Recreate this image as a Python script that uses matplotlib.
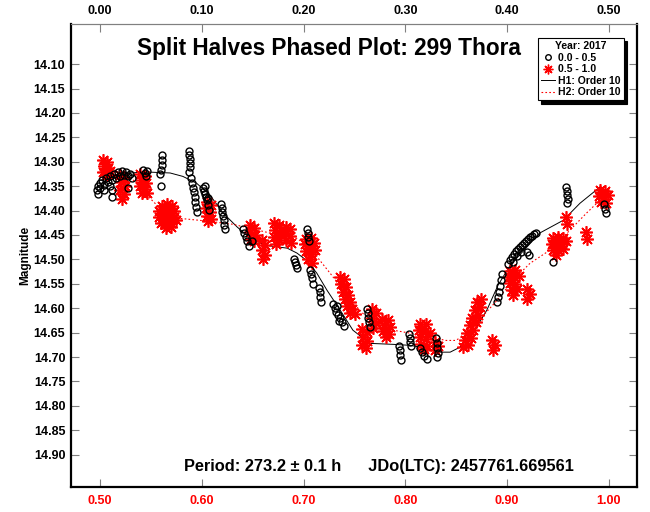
import matplotlib
matplotlib.use("Agg")
import matplotlib.pyplot as plt
from matplotlib.lines import Line2D

plt.rcParams['font.family'] = ['Liberation Sans', 'DejaVu Sans']
plt.rcParams['font.weight'] = 'bold'

# first half (phase 0.0 - 0.5), black circles
h1_pts = [
    (0.4971, 14.358), (0.4980, 14.350), (0.5000, 14.344), (0.5000, 14.354), (0.5020, 14.338),
    (0.5039, 14.348), (0.5059, 14.334), (0.5079, 14.342), (0.5098, 14.330), (0.5118, 14.338),
    (0.5138, 14.325), (0.5157, 14.334), (0.5177, 14.321), (0.5196, 14.330), (0.5216, 14.319),
    (0.5236, 14.327), (0.5255, 14.321), (0.5275, 14.330), (0.5295, 14.325), (0.5314, 14.334),
    (0.5118, 14.358), (0.5118, 14.373), (0.5275, 14.354), (0.4980, 14.366), (0.5039, 14.358),
    (0.5098, 14.350),
    (0.5422, 14.317), (0.5442, 14.323), (0.5462, 14.319), (0.5452, 14.330),
    (0.5609, 14.286), (0.5609, 14.297), (0.5609, 14.307), (0.5599, 14.317), (0.5589, 14.325),
    (0.5599, 14.350),
    (0.5874, 14.278), (0.5874, 14.286), (0.5884, 14.295), (0.5884, 14.303), (0.5884, 14.311),
    (0.5874, 14.321), (0.5894, 14.334), (0.5904, 14.344), (0.5914, 14.354), (0.5923, 14.362),
    (0.5933, 14.373), (0.5933, 14.383), (0.5943, 14.393), (0.5953, 14.403),
    (0.6012, 14.354), (0.6022, 14.360), (0.6031, 14.366), (0.6041, 14.373), (0.6051, 14.379),
    (0.6061, 14.375), (0.6031, 14.350), (0.6061, 14.389), (0.6071, 14.399),
    (0.6189, 14.387), (0.6198, 14.395), (0.6198, 14.403), (0.6208, 14.411), (0.6218, 14.420),
    (0.6218, 14.430), (0.6228, 14.438),
    (0.6405, 14.438), (0.6415, 14.446), (0.6434, 14.455), (0.6444, 14.463), (0.6464, 14.473),
    (0.6493, 14.463),
    (0.6906, 14.500), (0.6916, 14.506), (0.6925, 14.512), (0.6935, 14.518),
    (0.7033, 14.438), (0.7043, 14.446), (0.7043, 14.455), (0.7053, 14.463),
    (0.7063, 14.522), (0.7073, 14.530), (0.7083, 14.539), (0.7092, 14.551),
    (0.7151, 14.559), (0.7161, 14.567), (0.7161, 14.577), (0.7171, 14.588),
    (0.7289, 14.592), (0.7308, 14.600), (0.7318, 14.608), (0.7338, 14.614), (0.7358, 14.620),
    (0.7377, 14.629), (0.7397, 14.637), (0.7328, 14.596), (0.7348, 14.627),
    (0.7623, 14.602), (0.7633, 14.610), (0.7633, 14.620), (0.7642, 14.629), (0.7652, 14.639),
    (0.7937, 14.678), (0.7947, 14.686), (0.7947, 14.696), (0.7957, 14.707),
    (0.8035, 14.653), (0.8045, 14.661), (0.8045, 14.670), (0.8055, 14.678),
    (0.8143, 14.682), (0.8163, 14.690), (0.8183, 14.698), (0.8212, 14.705),
    (0.8301, 14.661), (0.8310, 14.672), (0.8310, 14.682), (0.8320, 14.692), (0.8310, 14.700),
    (0.8900, 14.588), (0.8910, 14.577), (0.8919, 14.567), (0.8929, 14.555), (0.8939, 14.543),
    (0.8949, 14.530),
    (0.9008, 14.510), (0.9028, 14.502), (0.9047, 14.495), (0.9067, 14.489), (0.9086, 14.483),
    (0.9106, 14.479), (0.9126, 14.475), (0.9145, 14.471), (0.9165, 14.467), (0.9185, 14.463),
    (0.9204, 14.459), (0.9224, 14.455), (0.9244, 14.452), (0.9263, 14.448), (0.9283, 14.446),
    (0.9057, 14.506), (0.9096, 14.493), (0.9136, 14.485), (0.9194, 14.485), (0.9214, 14.491),
    (0.9450, 14.506),
    (0.9578, 14.352), (0.9587, 14.360), (0.9587, 14.368), (0.9597, 14.377), (0.9587, 14.385),
    (0.9951, 14.387), (0.9961, 14.397), (0.9971, 14.405),
]

# second half (phase 0.5 - 1.0), red asterisks
h2_pts = [
    (0.503, 14.297), (0.507, 14.301), (0.504, 14.309), (0.508, 14.313), (0.503, 14.321),
    (0.507, 14.327), (0.510, 14.319),
    (0.5196, 14.327), (0.5236, 14.334), (0.5206, 14.342), (0.5246, 14.350), (0.5196, 14.358),
    (0.5236, 14.366), (0.5216, 14.377),
    (0.5393, 14.325), (0.5442, 14.330), (0.5403, 14.338), (0.5452, 14.344), (0.5393, 14.350),
    (0.5442, 14.356), (0.5413, 14.364), (0.5462, 14.364),
    (0.561, 14.391), (0.566, 14.387), (0.571, 14.391), (0.558, 14.401), (0.563, 14.401),
    (0.568, 14.401), (0.573, 14.401), (0.558, 14.414), (0.563, 14.414), (0.568, 14.414),
    (0.573, 14.414), (0.560, 14.426), (0.565, 14.426), (0.570, 14.426), (0.575, 14.420),
    (0.565, 14.436), (0.570, 14.434), (0.5655, 14.407), (0.5705, 14.420), (0.5605, 14.407),
    (0.6051, 14.383), (0.6091, 14.389), (0.6041, 14.395), (0.6081, 14.403), (0.6051, 14.411),
    (0.6091, 14.418), (0.6061, 14.422),
    (0.6473, 14.430), (0.6513, 14.436), (0.6473, 14.444), (0.6523, 14.450), (0.6483, 14.459),
    (0.6513, 14.463),
    (0.6591, 14.461), (0.6621, 14.471), (0.6591, 14.481), (0.6621, 14.491), (0.6601, 14.500),
    (0.6709, 14.426), (0.6758, 14.430), (0.6719, 14.440), (0.6768, 14.446), (0.6709, 14.455),
    (0.6758, 14.461), (0.6729, 14.469), (0.6827, 14.434), (0.6866, 14.438), (0.6817, 14.446),
    (0.6866, 14.452), (0.6827, 14.461), (0.6876, 14.467),
    (0.7024, 14.459), (0.7073, 14.457), (0.7014, 14.469), (0.7063, 14.473), (0.7102, 14.467),
    (0.7024, 14.483), (0.7073, 14.489), (0.7043, 14.500), (0.7083, 14.508), (0.7112, 14.481),
    (0.7358, 14.537), (0.7397, 14.541), (0.7367, 14.551), (0.7417, 14.557), (0.7387, 14.567),
    (0.7436, 14.573), (0.7407, 14.582), (0.7456, 14.588), (0.7426, 14.596), (0.7475, 14.602),
    (0.7456, 14.610), (0.7505, 14.612),
    (0.7574, 14.643), (0.7623, 14.649), (0.7584, 14.659), (0.7623, 14.668), (0.7574, 14.676),
    (0.7613, 14.682),
    (0.7672, 14.602), (0.7711, 14.610), (0.7672, 14.620), (0.7711, 14.631), (0.7682, 14.641),
    (0.7770, 14.623), (0.7829, 14.625), (0.7790, 14.635), (0.7849, 14.639), (0.7780, 14.647),
    (0.7839, 14.653), (0.7809, 14.659),
    (0.8143, 14.633), (0.8202, 14.633), (0.8134, 14.645), (0.8193, 14.647), (0.8242, 14.651),
    (0.8143, 14.659), (0.8202, 14.664), (0.8153, 14.674), (0.8212, 14.678), (0.8183, 14.684),
    (0.8291, 14.670), (0.8320, 14.678), (0.8291, 14.686),
    (0.8566, 14.680), (0.8615, 14.676), (0.8585, 14.666), (0.8644, 14.661), (0.8605, 14.651),
    (0.8664, 14.645), (0.8635, 14.635), (0.8693, 14.629), (0.8654, 14.620), (0.8713, 14.614),
    (0.8684, 14.604), (0.8733, 14.598), (0.8703, 14.588), (0.8743, 14.582),
    (0.8851, 14.666), (0.8880, 14.676), (0.8861, 14.686),
    (0.9028, 14.524), (0.9077, 14.522), (0.9018, 14.537), (0.9067, 14.537), (0.9116, 14.534),
    (0.9028, 14.549), (0.9077, 14.551), (0.9047, 14.563), (0.9096, 14.561), (0.9057, 14.573),
    (0.9194, 14.561), (0.9224, 14.571), (0.9194, 14.582),
    (0.9450, 14.457), (0.9499, 14.455), (0.9548, 14.457), (0.9440, 14.469), (0.9489, 14.469),
    (0.9538, 14.469), (0.9578, 14.463), (0.9450, 14.481), (0.9499, 14.481), (0.9548, 14.479),
    (0.9479, 14.491),
    (0.9578, 14.414), (0.9587, 14.428),
    (0.9774, 14.444), (0.9784, 14.459),
    (0.9912, 14.358), (0.9961, 14.360), (0.9902, 14.371), (0.9951, 14.373), (0.9990, 14.368),
    (0.9921, 14.383), (0.9971, 14.385),
]

# order-10 fourier fits
fit1_phase = [0.500, 0.5295, 0.546, 0.569, 0.5815, 0.595, 0.608, 0.621, 0.635, 0.647, 0.662,
              0.684, 0.6935, 0.703, 0.713, 0.723, 0.736, 0.7485, 0.765, 0.788, 0.8045, 0.821,
              0.834, 0.844, 0.8535, 0.8665, 0.880, 0.891, 0.903, 0.932, 0.955, 0.9715, 0.991]
fit1_mag = [14.338, 14.323, 14.321, 14.323, 14.330, 14.344, 14.368, 14.405, 14.434, 14.455, 14.471,
            14.477, 14.487, 14.502, 14.528, 14.563, 14.604, 14.645, 14.672, 14.674, 14.676, 14.682,
            14.690, 14.690, 14.680, 14.651, 14.604, 14.553, 14.512, 14.446, 14.420, 14.385, 14.352]
fit2_phase = [0.500, 0.5295, 0.546, 0.556, 0.5785, 0.598, 0.615, 0.6305, 0.647, 0.667, 0.677,
              0.6935, 0.706, 0.716, 0.726, 0.739, 0.7525, 0.765, 0.788, 0.8045, 0.821, 0.839,
              0.849, 0.8635, 0.873, 0.890, 0.9057, 0.9224, 0.942, 0.9617, 0.978, 0.991]
fit2_mag = [14.321, 14.330, 14.368, 14.389, 14.416, 14.420, 14.424, 14.428, 14.436, 14.446, 14.450,
            14.457, 14.475, 14.502, 14.528, 14.563, 14.598, 14.625, 14.645, 14.651, 14.655, 14.666,
            14.666, 14.651, 14.623, 14.584, 14.543, 14.508, 14.481, 14.440, 14.405, 14.379]

y_ticks = [14.10 + 0.05 * i for i in range(17)]
x_ticks = [0.5, 0.6, 0.7, 0.8, 0.9, 1.0]

fig = plt.figure(figsize=(6.5, 5.12), dpi=100)
ax = fig.add_axes([0.109, 0.049, 0.871, 0.904])

ax.plot(fit1_phase, fit1_mag, color='black', lw=0.7, zorder=2)
ax.plot(fit2_phase, fit2_mag, color='red', lw=0.8, ls=(0, (1.5, 2)), zorder=2)

ax.plot([p[0] for p in h2_pts], [p[1] for p in h2_pts], ls='none', marker=(8, 2, 0),
        ms=9, mec='red', mew=1.2, zorder=3)
ax.plot([p[0] for p in h1_pts], [p[1] for p in h1_pts], ls='none', marker='o',
        ms=5, mfc='none', mec='black', mew=1.0, zorder=4)

ax.set_xlim(0.4715, 1.0275)
ax.set_ylim(14.966, 14.018)
ax.set_yticks(y_ticks)
ax.set_yticklabels([f"{v:.2f}" for v in y_ticks], fontsize=9, fontweight='bold')
ax.set_xticks(x_ticks)
ax.set_xticklabels([f"{v:.2f}" for v in x_ticks], fontsize=9, fontweight='bold', color='red')
ax.tick_params(axis='both', direction='in', length=6, width=0.8, color='#808080')
ax.tick_params(axis='y', right=True, pad=4)
ax.tick_params(axis='x', pad=6)

top = ax.secondary_xaxis('top', functions=(lambda x: x - 0.5, lambda x: x + 0.5))
top.set_xticks([v - 0.5 for v in x_ticks])
top.set_xticklabels([f"{v - 0.5:.2f}" for v in x_ticks], fontsize=9, fontweight='bold')
top.tick_params(direction='in', length=6, width=0.8, color='#808080', pad=5)
top.spines['top'].set_color('#808080')
top.spines['top'].set_linewidth(0.8)

for side in ['left', 'bottom', 'right']:
    ax.spines[side].set_linewidth(1.6)
ax.spines['top'].set_color('#808080')
ax.spines['top'].set_linewidth(0.8)

ax.set_ylabel("Magnitude", fontsize=8.5, fontweight='bold', labelpad=2)

ax.text(0.456, 0.948, "Split Halves Phased Plot: 299 Thora", transform=ax.transAxes,
        ha='center', va='center', fontsize=16.3, fontweight='bold')
ax.text(0.544, 0.045, "Period: 273.2 \u00b1 0.1 h      JDo(LTC): 2457761.669561",
        transform=ax.transAxes, ha='center', va='center', fontsize=11.8, fontweight='bold')

handles = [
    Line2D([], [], ls='none', marker='o', ms=4, mfc='none', mec='black', mew=1.0),
    Line2D([], [], ls='none', marker=(8, 2, 0), ms=7, mec='red', mew=1.0),
    Line2D([], [], color='black', lw=0.7),
    Line2D([], [], color='red', lw=0.8, ls=(0, (1.5, 2))),
]
labels = ["0.0 - 0.5", "0.5 - 1.0", "H1: Order 10", "H2: Order 10"]
leg = ax.legend(handles, labels, loc='upper right', bbox_to_anchor=(0.977, 0.970),
                title="Year: 2017", fontsize=7.5, title_fontproperties={'size': 7.5, 'weight': 'bold'},
                frameon=True, fancybox=False, shadow={'color': 'black', 'alpha': 1, 'ox': 2.5, 'oy': -2.5},
                handlelength=1.4, handletextpad=0.3, borderpad=0.3, labelspacing=0.15,
                borderaxespad=0, edgecolor='black')
leg.get_frame().set_linewidth(0.8)
for t in leg.get_texts():
    t.set_fontweight('bold')

fig.savefig("out.png", dpi=100)
